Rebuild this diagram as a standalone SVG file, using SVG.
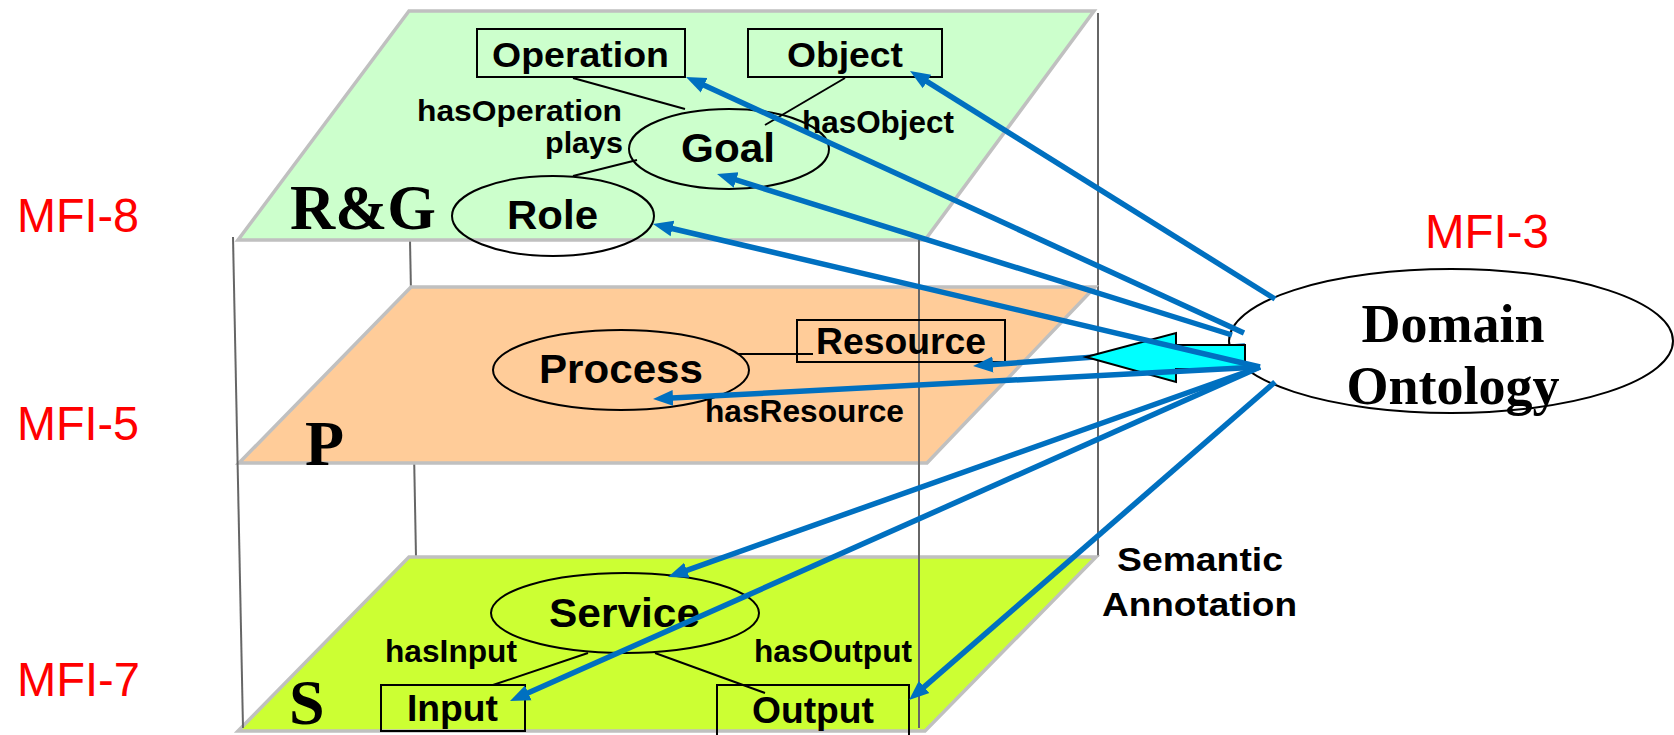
<svg xmlns="http://www.w3.org/2000/svg" width="1674" height="735" viewBox="0 0 1674 735">
<style>
.plane{stroke:#C0C0C0;stroke-width:3.5;stroke-linejoin:miter}
.frame{stroke:#666666;stroke-width:2;fill:none}
.shape{fill:none;stroke:#000;stroke-width:2}
.link{stroke:#000;stroke-width:2;fill:none}
.blue{stroke:#0070C0;stroke-width:5.5;fill:none;marker-end:url(#ah)}
.lbl{font-family:"Liberation Sans",Arial,sans-serif;font-weight:bold;fill:#000}
.big{font-family:"Liberation Serif","Times New Roman",serif;font-weight:bold;fill:#000}
.mfi{font-family:"Liberation Sans",Arial,sans-serif;fill:#FF0000;font-size:48px}
</style>
<defs>
<marker id="ah" markerUnits="userSpaceOnUse" markerWidth="24" markerHeight="20" viewBox="0 -9 24 18" refX="6" refY="0" orient="auto">
<path d="M0,-8 L20,0 L0,8 z" fill="#0070C0"/>
</marker>
</defs>
<rect width="1674" height="735" fill="#FFFFFF"/>
<g id="frame-back">
<line class="frame" x1="410" y1="240" x2="416" y2="557"/>
<line class="frame" x1="1098" y1="13" x2="1098" y2="557"/>
</g>
<g id="layer-rg">
<polygon class="plane" fill="#CCFFCC" points="409,11 1094,11 925,240 238,240"/>
<text class="big" x="290" y="229" font-size="64" textLength="146" lengthAdjust="spacingAndGlyphs">R&amp;G</text>
</g>
<g id="layer-p">
<polygon class="plane" fill="#FFCC99" points="411,287 1095,287 927,463 239,463"/>
<text class="big" x="305" y="465" font-size="64">P</text>
</g>
<g id="layer-s">
<polygon class="plane" fill="#CCFF33" points="409,557 1096,557 925,731 238,731"/>
<text class="big" x="289" y="724" font-size="64">S</text>
</g>
<g id="frame-front">
<line class="frame" x1="233" y1="237" x2="243" y2="728"/>
<line class="frame" x1="919" y1="240" x2="919" y2="728"/>
</g>
<g id="links">
<line class="link" x1="573" y1="78" x2="685" y2="109"/>
<line class="link" x1="845" y1="78" x2="765" y2="125"/>
<line class="link" x1="637" y1="160" x2="573" y2="176"/>
<line class="link" x1="738" y1="354" x2="813" y2="354"/>
<line class="link" x1="588" y1="653" x2="493" y2="685"/>
<line class="link" x1="655" y1="653" x2="765" y2="693"/>
<text class="lbl" x="417" y="121" font-size="30" textLength="205" lengthAdjust="spacingAndGlyphs">hasOperation</text>
<text class="lbl" x="545" y="153" font-size="30" textLength="78" lengthAdjust="spacingAndGlyphs">plays</text>
<text class="lbl" x="802" y="133" font-size="31" textLength="152" lengthAdjust="spacingAndGlyphs">hasObject</text>
<text class="lbl" x="705" y="422" font-size="31" textLength="199" lengthAdjust="spacingAndGlyphs">hasResource</text>
<text class="lbl" x="385" y="662" font-size="31" textLength="132" lengthAdjust="spacingAndGlyphs">hasInput</text>
<text class="lbl" x="754" y="662" font-size="31" textLength="158" lengthAdjust="spacingAndGlyphs">hasOutput</text>
</g>
<g id="node-operation">
<rect class="shape" x="477" y="29" width="208" height="48"/>
<text class="lbl" x="492" y="67" font-size="35" textLength="177" lengthAdjust="spacingAndGlyphs">Operation</text>
</g>
<g id="node-object">
<rect class="shape" x="748" y="29" width="194" height="48"/>
<text class="lbl" x="787" y="67" font-size="35" textLength="116" lengthAdjust="spacingAndGlyphs">Object</text>
</g>
<g id="node-goal">
<ellipse class="shape" cx="729" cy="149" rx="100" ry="40"/>
<text class="lbl" x="681" y="162" font-size="41" textLength="94" lengthAdjust="spacingAndGlyphs">Goal</text>
</g>
<g id="node-role">
<ellipse class="shape" cx="553" cy="216" rx="101" ry="40"/>
<text class="lbl" x="507" y="229" font-size="41" textLength="91" lengthAdjust="spacingAndGlyphs">Role</text>
</g>
<g id="node-process">
<ellipse class="shape" cx="621" cy="370" rx="128" ry="40"/>
<text class="lbl" x="539" y="383" font-size="41" textLength="164" lengthAdjust="spacingAndGlyphs">Process</text>
</g>
<g id="node-resource">
<rect class="shape" x="797" y="320" width="208" height="42"/>
<text class="lbl" x="816" y="354" font-size="36" textLength="170" lengthAdjust="spacingAndGlyphs">Resource</text>
</g>
<g id="node-service">
<ellipse class="shape" cx="625" cy="613" rx="134" ry="40"/>
<text class="lbl" x="549" y="627" font-size="41" textLength="151" lengthAdjust="spacingAndGlyphs">Service</text>
</g>
<g id="node-input">
<rect class="shape" x="381" y="685" width="144" height="46"/>
<text class="lbl" x="407" y="721" font-size="36" textLength="91" lengthAdjust="spacingAndGlyphs">Input</text>
</g>
<g id="node-output">
<rect class="shape" x="717" y="685" width="192" height="56"/>
<text class="lbl" x="752" y="723" font-size="36" textLength="122" lengthAdjust="spacingAndGlyphs">Output</text>
</g>
<g id="node-domain">
<ellipse cx="1451" cy="341" rx="222" ry="72" fill="#FFFFFF" stroke="#000" stroke-width="2"/>
<text class="big" x="1453" y="342" font-size="54" text-anchor="middle">Domain</text>
<text class="big" x="1453" y="404" font-size="54" text-anchor="middle">Ontology</text>
</g>
<g id="connectors">
<line class="blue" x1="1245" y1="346" x2="987" y2="365"/>
<polygon points="1086,357 1176,333 1176,345 1245,345 1245,369 1176,369 1176,382" fill="#00FFFF" stroke="#000" stroke-width="2"/>
<line class="blue" x1="1275" y1="299" x2="921.9" y2="78.4"/>
<line class="blue" x1="1244" y1="333" x2="698.7" y2="82.8"/>
<line class="blue" x1="1232" y1="335" x2="730.4" y2="178.2"/>
<line class="blue" x1="1260" y1="367" x2="666.6" y2="227.2"/>
<line class="blue" x1="1260" y1="367" x2="667" y2="398.3"/>
<line class="blue" x1="1260" y1="367" x2="681.2" y2="572.3"/>
<line class="blue" x1="1260" y1="367" x2="522.8" y2="695.3"/>
<line class="blue" x1="1275" y1="382" x2="919.6" y2="690.8"/>
</g>
<g id="labels">
<text class="lbl" x="1117" y="571" font-size="33" textLength="166" lengthAdjust="spacingAndGlyphs">Semantic</text>
<text class="lbl" x="1102" y="616" font-size="33" textLength="195" lengthAdjust="spacingAndGlyphs">Annotation</text>
<text class="mfi" x="17" y="232" textLength="122" lengthAdjust="spacingAndGlyphs">MFI-8</text>
<text class="mfi" x="17" y="440" textLength="122" lengthAdjust="spacingAndGlyphs">MFI-5</text>
<text class="mfi" x="17" y="696" textLength="123" lengthAdjust="spacingAndGlyphs">MFI-7</text>
<text class="mfi" x="1425" y="248" textLength="124" lengthAdjust="spacingAndGlyphs">MFI-3</text>
</g>
</svg>
